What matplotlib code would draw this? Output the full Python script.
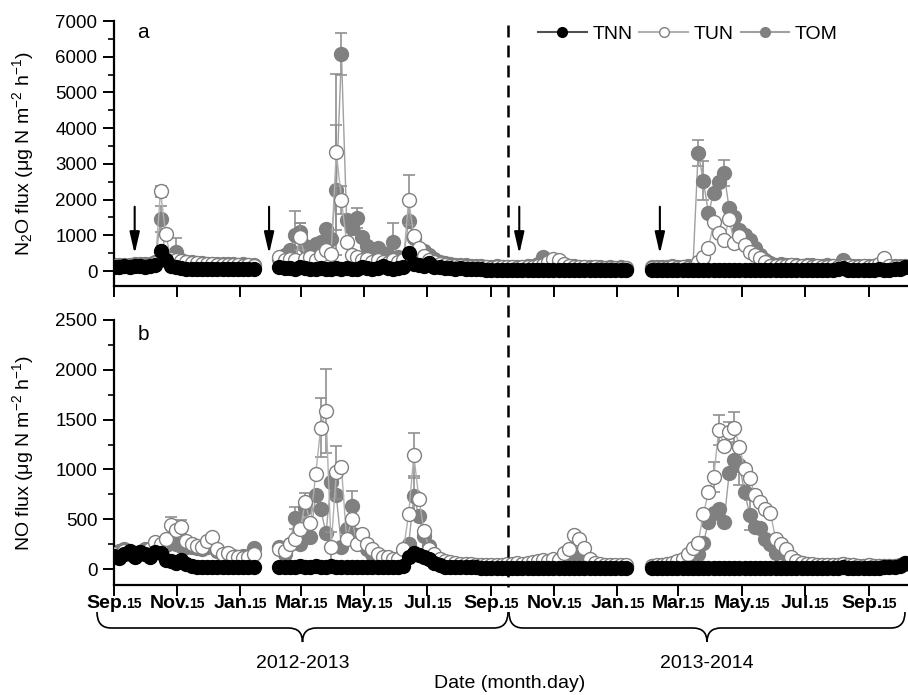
import numpy as np
import pandas as pd
import matplotlib
matplotlib.use('Agg')
import matplotlib.pyplot as plt
import matplotlib.dates as mdates
from matplotlib.lines import Line2D
from matplotlib.path import Path
from matplotlib.patches import PathPatch
from matplotlib.offsetbox import TextArea, HPacker, AnnotationBbox
from matplotlib.transforms import blended_transform_factory
from matplotlib import font_manager as fm

nan = np.nan

# ---------------- data ----------------
sample_dates = pd.date_range('2012-09-15', periods=154, freq='5D')

n2o_tnn = [100, 120, 130, 110, 140, 150, 120, 130, 160, 550,
           320, 150, 100, 80, 70, 60, 70, 60, 60, 50,
           60, 50, 60, 50, 50, 60, 50, 60, nan, nan,
           nan, nan, 120, 90, 80, 70, 100, 80, 60, 70,
           80, 60, 70, 90, 60, 80, 60, 70, 100, 80,
           60, 90, 150, 80, 70, 90, 110, 500, 200, 160,
           150, 220, 120, 100, 80, 90, 70, 80, 60, 70,
           60, 50, 40, 30, 40, 30, 30, 40, 30, 30,
           30, 40, 30, 30, 30, 40, 30, 30, 20, 30,
           30, 20, 30, 20, 30, 20, 20, 30, 20, 20,
           nan, nan, nan, nan, 30, 30, 40, 30, 30, 40,
           30, 40, 30, 20, 30, 30, 40, 30, 40, 30,
           40, 30, 30, 40, 30, 30, 40, 30, 30, 40,
           30, 30, 40, 30, 40, 30, 30, 40, 30, 40,
           50, 80, 40, 30, 40, 30, 30, 40, 50, 40,
           40, 50, 60, 100]

n2o_tun = [130, 140, 150, 140, 160, 170, 150, 180, 220, 2230,
           1030, 350, 300, 280, 250, 230, 220, 210, 200, 190,
           180, 170, 160, 170, 160, 150, 160, 150, nan, nan,
           nan, nan, 380, 300, 330, 300, 960, 350, 380, 300,
           450, 590, 480, 3340, 1990, 800, 450, 400, 300, 350,
           250, 300, 260, 220, 300, 260, 300, 1990, 980, 640,
           420, 320, 260, 200, 170, 150, 140, 130, 120, 110,
           110, 100, 100, 90, 100, 120, 110, 100, 90, 100,
           110, 120, 150, 180, 260, 330, 300, 200, 150, 120,
           110, 100, 90, 100, 90, 80, 90, 80, 90, 80,
           nan, nan, nan, nan, 80, 90, 80, 90, 100, 90,
           100, 90, 80, 250, 400, 640, 1370, 1060, 870, 1460,
           780, 980, 730, 530, 450, 360, 250, 150, 140, 130,
           150, 160, 140, 130, 140, 120, 130, 120, 110, 130,
           120, 150, 140, 120, 110, 130, 120, 150, 200, 360,
           150, 120, 100, 120]

n2o_tom = [160, 170, 180, 170, 190, 200, 190, 210, 250, 1450,
           400, 300, 530, 300, 250, 240, 230, 220, 210, 200,
           200, 190, 200, 190, 180, 190, 180, 180, nan, nan,
           nan, nan, 350, 450, 600, 1000, 1100, 700, 600, 750,
           800, 1180, 900, 2270, 6070, 1430, 1200, 1480, 950, 700,
           600, 640, 500, 450, 810, 400, 350, 1400, 920, 500,
           550, 450, 350, 250, 220, 200, 180, 170, 160, 150,
           140, 130, 120, 110, 150, 120, 110, 120, 100, 110,
           150, 130, 200, 400, 250, 200, 180, 160, 140, 130,
           120, 110, 100, 110, 100, 90, 100, 90, 100, 90,
           nan, nan, nan, nan, 100, 110, 120, 110, 130, 120,
           120, 130, 120, 3310, 2530, 1620, 2180, 2490, 2740, 1760,
           1510, 1150, 1000, 870, 640, 450, 300, 220, 180, 200,
           180, 170, 160, 150, 170, 160, 150, 140, 160, 150,
           140, 300, 170, 150, 140, 130, 150, 140, 130, 160,
           150, 140, 130, 150]

no_tnn = [130, 110, 150, 180, 120, 170, 150, 120, 170, 160,
          90, 80, 60, 90, 50, 30, 20, 20, 20, 20,
          20, 20, 20, 20, 20, 20, 20, 20, nan, nan,
          nan, nan, 20, 20, 20, 20, 30, 20, 20, 30,
          20, 20, 30, 20, 20, 20, 20, 20, 20, 20,
          20, 20, 20, 20, 20, 20, 30, 120, 160, 140,
          120, 100, 60, 40, 20, 20, 20, 20, 20, 20,
          20, 10, 10, 10, 10, 10, 10, 10, 10, 10,
          10, 10, 10, 10, 10, 10, 10, 10, 10, 10,
          10, 10, 10, 10, 10, 10, 10, 10, 10, 10,
          nan, nan, nan, nan, 10, 10, 10, 10, 10, 10,
          10, 10, 10, 10, 10, 10, 10, 10, 10, 10,
          10, 10, 10, 10, 10, 10, 10, 10, 10, 10,
          10, 10, 10, 10, 10, 10, 10, 10, 10, 10,
          10, 20, 10, 10, 10, 10, 10, 10, 10, 20,
          20, 20, 30, 60]

no_tun = [150, 120, 180, 160, 150, 170, 150, 200, 270, 250,
          300, 440, 390, 420, 280, 250, 230, 220, 280, 320,
          200, 150, 160, 120, 120, 110, 120, 150, nan, nan,
          nan, nan, 200, 180, 250, 300, 400, 670, 460, 950,
          1420, 1590, 220, 970, 1020, 300, 500, 250, 350, 250,
          200, 150, 120, 120, 100, 100, 200, 550, 1140, 700,
          380, 200, 150, 100, 80, 70, 60, 50, 50, 50,
          40, 40, 40, 40, 40, 40, 50, 50, 60, 50,
          60, 70, 80, 90, 80, 100, 90, 160, 200, 340,
          300, 210, 100, 60, 50, 40, 40, 40, 40, 40,
          nan, nan, nan, nan, 30, 40, 40, 50, 60, 80,
          100, 150, 210, 260, 550, 770, 920, 1400, 1240, 1380,
          1420, 1230, 1000, 910, 740, 670, 600, 560, 300, 250,
          200, 120, 80, 60, 50, 50, 40, 40, 40, 40,
          40, 50, 40, 40, 30, 30, 40, 30, 30, 30,
          30, 30, 40, 60]

no_tom = [140, 180, 200, 150, 130, 170, 200, 180, 230, 250,
          240, 260, 250, 230, 220, 220, 210, 200, 220, 230,
          180, 150, 140, 130, 120, 130, 130, 210, nan, nan,
          nan, nan, 220, 150, 250, 510, 250, 610, 320, 740,
          600, 360, 870, 740, 220, 400, 630, 340, 300, 200,
          150, 120, 100, 100, 80, 80, 150, 250, 730, 530,
          330, 230, 120, 80, 60, 50, 50, 40, 40, 40,
          40, 30, 30, 30, 30, 30, 40, 40, 40, 40,
          50, 50, 60, 60, 70, 80, 80, 100, 140, 150,
          120, 80, 50, 40, 30, 30, 30, 30, 30, 30,
          nan, nan, nan, nan, 30, 30, 40, 40, 50, 60,
          80, 100, 120, 150, 260, 470, 560, 600, 470, 960,
          1090, 1040, 770, 540, 420, 410, 300, 250, 160, 220,
          150, 100, 80, 60, 50, 40, 40, 40, 40, 40,
          40, 50, 40, 40, 30, 30, 40, 30, 30, 30,
          30, 30, 40, 50]

# standard errors (sample index -> error), only where visible
n2o_tun_err = {9: 150, 36: 380, 43: 2180, 44: 400, 57: 700, 149: 100}
n2o_tom_err = {9: 370, 12: 400, 35: 690, 36: 250, 43: 1820, 44: 580,
               47: 280, 54: 530, 113: 370, 114: 550, 118: 360, 141: 60}
no_tun_err = {11: 80, 13: 70, 40: 300, 41: 420, 42: 150, 43: 270, 58: 230,
              116: 150, 117: 150, 119: 100, 120: 160}
no_tom_err = {35: 110, 37: 150, 46: 150, 58: 200, 121: 200, 123: 150}

fert_dates = ['2012-10-05', '2013-02-12', '2013-10-12', '2014-02-25']
season_split = '2013-10-01'
tick_dates = pd.date_range('2012-09-01', '2014-09-01', freq='2MS') + pd.Timedelta(days=14)
tick_months = ['Sep', 'Nov', 'Jan', 'Mar', 'May', 'Jul', 'Sep',
               'Nov', 'Jan', 'Mar', 'May', 'Jul', 'Sep']
season_labels = ['2012-2013', '2013-2014']
series_names = ['TNN', 'TUN', 'TOM']

# ---------------- style ----------------
names = {f.name for f in fm.fontManager.ttflist}
narrow = 'Liberation Sans Narrow' if 'Liberation Sans Narrow' in names else 'Liberation Sans'
plt.rcParams['font.family'] = ['Liberation Sans', 'DejaVu Sans']
plt.rcParams['mathtext.default'] = 'regular'
plt.rcParams['lines.scale_dashes'] = False

W, H = 908, 695
fig = plt.figure(figsize=(W / 100, H / 100), dpi=100)
ax1 = fig.add_axes([114 / W, 1 - 286 / H, 1 - 114 / W, (286 - 21) / H])
ax2 = fig.add_axes([114 / W, 1 - 585 / H, 1 - 114 / W, (585 - 320) / H], sharex=ax1)

styles = {
    'TNN': dict(color='#505050', mfc='black', mec='black'),
    'TUN': dict(color='#b0b0b0', mfc='white', mec='#808080'),
    'TOM': dict(color='#a0a0a0', mfc='#808080', mec='#808080'),
}
x = sample_dates.values
MS = 10


def draw(ax, tnn, tun, tom, tun_err, tom_err):
    for name, vals, errs, z in [('TOM', tom, tom_err, 2), ('TUN', tun, tun_err, 3)]:
        idx = sorted(errs)
        ax.errorbar(x[idx], np.array(vals)[idx], yerr=[errs[i] for i in idx],
                    fmt='none', ecolor='#909090', elinewidth=1.2, capsize=4,
                    capthick=1.2, zorder=z - 0.5)
        st = styles[name]
        ax.plot(x, vals, '-o', color=st['color'], lw=1.0, ms=MS,
                mfc=st['mfc'], mec=st['mec'], mew=1.0, zorder=z)
    st = styles['TNN']
    ax.plot(x, tnn, '-o', color=st['color'], lw=1.0, ms=MS,
            mfc=st['mfc'], mec=st['mec'], mew=1.0, zorder=4)


draw(ax1, n2o_tnn, n2o_tun, n2o_tom, n2o_tun_err, n2o_tom_err)
draw(ax2, no_tnn, no_tun, no_tom, no_tun_err, no_tom_err)

xmin = pd.Timestamp('2012-09-15')
xmax = pd.Timestamp('2014-10-23')
ax1.set_xlim(xmin, xmax)
ax1.set_ylim(-420, 7000)
ax2.set_ylim(-160, 2500)
ax1.set_yticks(np.arange(0, 7001, 1000))
ax1.set_yticks(np.arange(0, 7001, 500), minor=True)
ax2.set_yticks(np.arange(0, 2501, 500))
ax2.set_yticks(np.arange(0, 2501, 250), minor=True)
ax1.set_xticks(tick_dates)

for ax in (ax1, ax2):
    for s in ('top', 'right'):
        ax.spines[s].set_visible(False)
    for s in ('left', 'bottom'):
        ax.spines[s].set_linewidth(1.6)
    ax.tick_params(axis='both', which='major', direction='out', length=8, width=1.4,
                   labelsize=13.5, pad=4)
    ax.tick_params(axis='y', which='minor', direction='out', length=4, width=1.2)
    ax.tick_params(axis='x', labelbottom=False)
    ax.yaxis.set_label_coords(-0.098, 0.5)

ax1.set_ylabel('N$_2$O flux (μg N m$^{-2}$ h$^{-1}$)', fontsize=14)
ax2.set_ylabel('NO flux (μg N m$^{-2}$ h$^{-1}$)', fontsize=14)

fig.text(143 / W, 1 - 33 / H, 'a', fontsize=15, ha='center', va='center')
fig.text(143 / W, 1 - 335 / H, 'b', fontsize=15, ha='center', va='center')

# custom x tick labels: "Sep." + small "15"
for d, m in zip(tick_dates, tick_months):
    t1 = TextArea(m + '.', textprops=dict(fontsize=14, fontweight='bold', family=narrow))
    t2 = TextArea('15', textprops=dict(fontsize=10, fontweight='bold', family=narrow))
    box = HPacker(children=[t1, t2], align='baseline', pad=0, sep=-1)
    ab = AnnotationBbox(box, (mdates.date2num(d), 0), xycoords=ax2.get_xaxis_transform(),
                        xybox=(0, -13.5), boxcoords='offset points', frameon=False,
                        box_alignment=(0.5, 0.5), annotation_clip=False, pad=0)
    ax2.add_artist(ab)

# fertilisation arrows
for d in fert_dates:
    ax1.annotate('', xy=(pd.Timestamp(d), 480), xytext=(pd.Timestamp(d), 1800),
                 arrowprops=dict(arrowstyle='-|>,head_length=1.3,head_width=0.3',
                                 color='black', lw=1.5, mutation_scale=10,
                                 shrinkA=0, shrinkB=0), zorder=6)

# season split dashed line
tr = blended_transform_factory(ax1.transData, fig.transFigure)
split = mdates.date2num(pd.Timestamp(season_split))
fig.add_artist(Line2D([split, split], [1 - 25 / H, 1 - 587 / H], transform=tr,
                      color='black', lw=1.8, linestyle=(0, (8.6, 5.8))))

# legend
handles = [Line2D([], [], color=styles[n]['color'], lw=1.5, marker='o', ms=7,
                  mfc=styles[n]['mfc'], mec=styles[n]['mec']) for n in series_names]
fig.legend(handles, series_names, loc='center', bbox_to_anchor=(688 / W, 1 - 34 / H),
           ncol=3, frameon=False, fontsize=14, handlelength=2.5, handletextpad=0.3,
           columnspacing=0.35, borderpad=0)


# braces
def brace(x0, x1, yt, ym, yb, q=14):
    xm = (x0 + x1) / 2
    pts = [(x0, yt), (x0, ym), (x0 + q, ym), (xm - q, ym), (xm, ym), (xm, yb),
           (xm, ym), (xm + q, ym), (x1 - q, ym), (x1, ym), (x1, yt)]
    codes = [Path.MOVETO, Path.CURVE3, Path.CURVE3, Path.LINETO, Path.CURVE3, Path.CURVE3,
             Path.CURVE3, Path.CURVE3, Path.LINETO, Path.CURVE3, Path.CURVE3]
    verts = [(px / W, 1 - py / H) for px, py in pts]
    fig.add_artist(PathPatch(Path(verts, codes), transform=fig.transFigure,
                             fill=False, lw=1.2, color='black'))
    return xm


m1 = brace(97, 508, 612, 628, 642)
m2 = brace(509, 905, 612, 628, 642)
fig.text(m1 / W, 1 - 663 / H, season_labels[0], fontsize=14, family=narrow,
         ha='center', va='center')
fig.text(m2 / W, 1 - 663 / H, season_labels[1], fontsize=14, family=narrow,
         ha='center', va='center')
fig.text(510 / W, 1 - 684 / H, 'Date (month.day)', fontsize=14, family=narrow,
         ha='center', va='center')

fig.savefig('out.png', dpi=100)
